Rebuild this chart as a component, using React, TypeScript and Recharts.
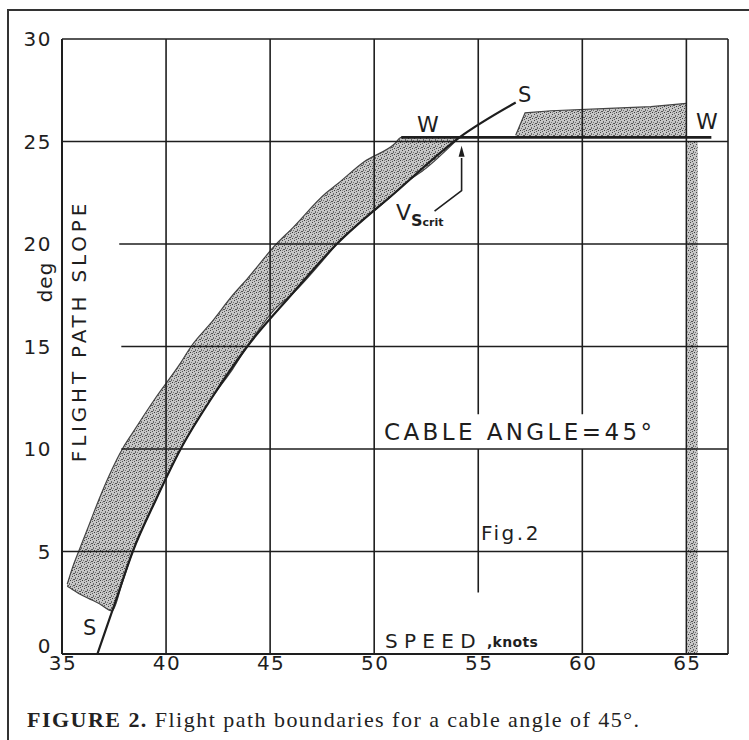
import {
  Area,
  ComposedChart,
  Line,
  ReferenceArea,
  ReferenceLine,
  Scatter,
  XAxis,
  YAxis,
} from 'recharts';

const xTicks = [35, 40, 45, 50, 55, 60, 65];
const yTicks = [0, 5, 10, 15, 20, 25, 30];

// S boundary (stall line)
const sCurve = [
  { x: 36.7, y: 0 },
  { x: 37.55, y: 2.5 },
  { x: 38.4, y: 5 },
  { x: 39.5, y: 7.5 },
  { x: 40.7, y: 10 },
  { x: 42.2, y: 12.5 },
  { x: 43.9, y: 15 },
  { x: 46, y: 17.5 },
  { x: 48.2, y: 20 },
  { x: 51, y: 22.5 },
  { x: 54.1, y: 25.2 },
  { x: 56.8, y: 26.9 },
];

// W boundary
const wLine = [
  { x: 51.3, y: 25.2 },
  { x: 66.2, y: 25.2 },
];

// shaded band left of the S line: lo / hi edge at each speed
const leftBand = [
  { x: 35.25, lo: 3.3, hi: 3.4 },
  { x: 35.5, lo: 3.15, hi: 4.2 },
  { x: 35.8, lo: 2.95, hi: 5.0 },
  { x: 36.3, lo: 2.7, hi: 6.3 },
  { x: 36.8, lo: 2.45, hi: 7.6 },
  { x: 37.4, lo: 2.1, hi: 9.0 },
  { x: 37.9, lo: 3.5, hi: 10.0 },
  { x: 38.4, lo: 5, hi: 10.8 },
  { x: 39.5, lo: 7.5, hi: 12.5 },
  { x: 40.7, lo: 10, hi: 14.2 },
  { x: 41.2, lo: 10.9, hi: 15 },
  { x: 42.2, lo: 12.5, hi: 16.2 },
  { x: 43.2, lo: 13.9, hi: 17.5 },
  { x: 43.9, lo: 15, hi: 18.3 },
  { x: 45.3, lo: 16.9, hi: 20 },
  { x: 46, lo: 17.5, hi: 20.7 },
  { x: 47.7, lo: 19.4, hi: 22.5 },
  { x: 48.2, lo: 20, hi: 22.9 },
  { x: 49.5, lo: 21.2, hi: 24 },
  { x: 51, lo: 22.5, hi: 24.9 },
  { x: 51.3, lo: 22.8, hi: 25.2 },
  { x: 52.5, lo: 23.7, hi: 25.2 },
  { x: 54.1, lo: 25.2, hi: 25.2 },
];

// shaded band above the W line
const rightBand = [
  { x: 56.8, lo: 25.2, hi: 25.3 },
  { x: 57.25, lo: 25.2, hi: 26.4 },
  { x: 58.5, lo: 25.2, hi: 26.5 },
  { x: 61, lo: 25.2, hi: 26.6 },
  { x: 63.3, lo: 25.2, hi: 26.7 },
  { x: 65, lo: 25.2, hi: 26.86 },
];

// narrow vertical band at the top speed
const limitBand = { x1: 65.05, x2: 65.55, y1: 0, y2: 25 };

// V_S crit pointer
const vsPointer = [
  { x: 54.2, y: 24.2 },
  { x: 54.2, y: 22.6 },
  { x: 52.9, y: 21.6 },
];
const vsTip = [{ x: 54.2, y: 24.55 }];

// grid segments (some are broken by lettering)
const vGrid = [
  { x: 40, from: 0, to: 30 },
  { x: 45, from: 0, to: 30 },
  { x: 50, from: 0, to: 30 },
  { x: 55, from: 3, to: 10 },
  { x: 55, from: 11.7, to: 30 },
  { x: 60, from: 0, to: 10 },
  { x: 60, from: 11.7, to: 30 },
  { x: 65, from: 0, to: 30 },
  { x: 67, from: 0, to: 30 },
];
const hGrid = [
  { y: 5, from: 35, to: 67 },
  { y: 10, from: 37.85, to: 67 },
  { y: 15, from: 37.85, to: 67 },
  { y: 20, from: 37.75, to: 67 },
  { y: 25, from: 35, to: 67 },
  { y: 30, from: 35, to: 67 },
];

const INK = '#1e1e1e';
const FONT = 'DejaVu Sans';

function YTick(props: any) {
  const { x, y, payload } = props;
  const dy = payload.value === 0 ? -1 : 7;
  return (
    <text x={x} y={y + dy} textAnchor="end" fill={INK} fontFamily={FONT} fontSize={20} letterSpacing={1.5}>
      {payload.value}
    </text>
  );
}

function XTick(props: any) {
  const { x, y, payload } = props;
  return (
    <text x={x + 1} y={y + 16} textAnchor="middle" fill={INK} fontFamily={FONT} fontSize={20} letterSpacing={1.5}>
      {payload.value}
    </text>
  );
}

function ArrowTip(props: any) {
  const { cx, cy } = props;
  return <path d={`M${cx},${cy - 5} L${cx - 3},${cy + 6} L${cx + 3},${cy + 6} Z`} fill={INK} />;
}

export default function App() {
  return (
    <div style={{ position: 'absolute', left: 0, top: 0, width: 749, height: 740, background: '#fff' }}>
      <ComposedChart
        width={749}
        height={740}
        margin={{ top: 39, right: 21, bottom: 56, left: 22 }}
      >
        <defs>
          <pattern id="stipple" width="6" height="6" patternUnits="userSpaceOnUse">
            <rect width="6" height="6" fill="#c6c6c6" />
            <rect x="0" y="0" width="1" height="1" fill="#444" />
            <rect x="3" y="1" width="1" height="2" fill="#666" />
            <rect x="1" y="3" width="2" height="1" fill="#555" />
            <rect x="4" y="4" width="1" height="1" fill="#3a3a3a" />
            <rect x="5" y="2" width="1" height="1" fill="#777" />
            <rect x="2" y="5" width="1" height="1" fill="#5a5a5a" />
            <rect x="0" y="4" width="1" height="1" fill="#888" />
          </pattern>
        </defs>

        <rect x={8} y={10} width={760} height={760} fill="none" stroke="#333" strokeWidth={2} />

        <XAxis
          dataKey="x"
          type="number"
          domain={[35, 67]}
          ticks={xTicks}
          allowDataOverflow
          height={30}
          tickSize={0}
          tickMargin={0}
          tick={<XTick />}
          axisLine={{ stroke: INK, strokeWidth: 2 }}
        />
        <YAxis
          type="number"
          domain={[0, 30]}
          ticks={yTicks}
          allowDataOverflow
          width={40}
          tickSize={0}
          tickMargin={10}
          tick={<YTick />}
          axisLine={{ stroke: INK, strokeWidth: 2 }}
        />

        <Area
          data={leftBand}
          dataKey={(d: any) => [d.lo, d.hi]}
          type="monotone"
          fill="url(#stipple)"
          fillOpacity={1}
          stroke="#444"
          strokeWidth={1.2}
          isAnimationActive={false}
        />
        <Area
          data={rightBand}
          dataKey={(d: any) => [d.lo, d.hi]}
          type="linear"
          fill="url(#stipple)"
          fillOpacity={1}
          stroke="#444"
          strokeWidth={1.2}
          isAnimationActive={false}
        />
        <ReferenceArea
          x1={limitBand.x1}
          x2={limitBand.x2}
          y1={limitBand.y1}
          y2={limitBand.y2}
          fill="url(#stipple)"
          fillOpacity={1}
          stroke="none"
        />

        {vGrid.map((g, i) => (
          <ReferenceLine
            key={`v-${i}`}
            segment={[{ x: g.x, y: g.from }, { x: g.x, y: g.to }]}
            stroke={INK}
            strokeWidth={1.6}
            ifOverflow="visible"
          />
        ))}
        {hGrid.map((g, i) => (
          <ReferenceLine
            key={`h-${i}`}
            segment={[{ x: g.from, y: g.y }, { x: g.to, y: g.y }]}
            stroke={INK}
            strokeWidth={1.6}
            ifOverflow="visible"
          />
        ))}

        <Line
          data={sCurve}
          dataKey="y"
          type="monotone"
          stroke={INK}
          strokeWidth={2.2}
          dot={false}
          isAnimationActive={false}
        />
        <Line
          data={wLine}
          dataKey="y"
          type="linear"
          stroke={INK}
          strokeWidth={2.6}
          dot={false}
          isAnimationActive={false}
        />
        <Line
          data={vsPointer}
          dataKey="y"
          type="linear"
          stroke={INK}
          strokeWidth={1.6}
          dot={false}
          isAnimationActive={false}
        />
        <Scatter data={vsTip} dataKey="y" shape={<ArrowTip />} isAnimationActive={false} />

        <g fill={INK} fontFamily={FONT}>
          <text x={0} y={0} transform="translate(86,331) rotate(-90)" textAnchor="middle" fontSize={20} letterSpacing={3.8}>
            FLIGHT PATH SLOPE
          </text>
          <text x={0} y={0} transform="translate(52,282) rotate(-90)" textAnchor="middle" fontSize={20} letterSpacing={1}>
            deg
          </text>
          <text x={417} y={132} fontSize={22}>W</text>
          <text x={696} y={129} fontSize={22}>W</text>
          <text x={518} y={102} fontSize={21}>S</text>
          <text x={83} y={635} fontSize={21}>S</text>
          <text x={396} y={220} fontSize={22}>
            V
            <tspan fontSize={16} fontWeight="bold" dy={6}>S</tspan>
            <tspan fontSize={11} fontWeight="bold">crit</tspan>
          </text>
          <text x={384} y={440} fontSize={23} letterSpacing={3.4}>CABLE ANGLE=45°</text>
          <text x={481} y={540} fontSize={20} letterSpacing={2.5}>Fig.2</text>
          <text x={385} y={648} fontSize={20} letterSpacing={6.3}>SPEED</text>
          <text x={487} y={647} fontSize={14} fontWeight="bold" letterSpacing={0.3}>,knots</text>
        </g>

        <text
          x={27}
          y={727}
          fill="#222"
          fontFamily="Liberation Serif"
          fontSize={22}
          textLength={612}
          lengthAdjust="spacing"
        >
          <tspan fontWeight="bold">FIGURE 2.</tspan> Flight path boundaries for a cable angle of 45°.
        </text>
      </ComposedChart>
    </div>
  );
}
